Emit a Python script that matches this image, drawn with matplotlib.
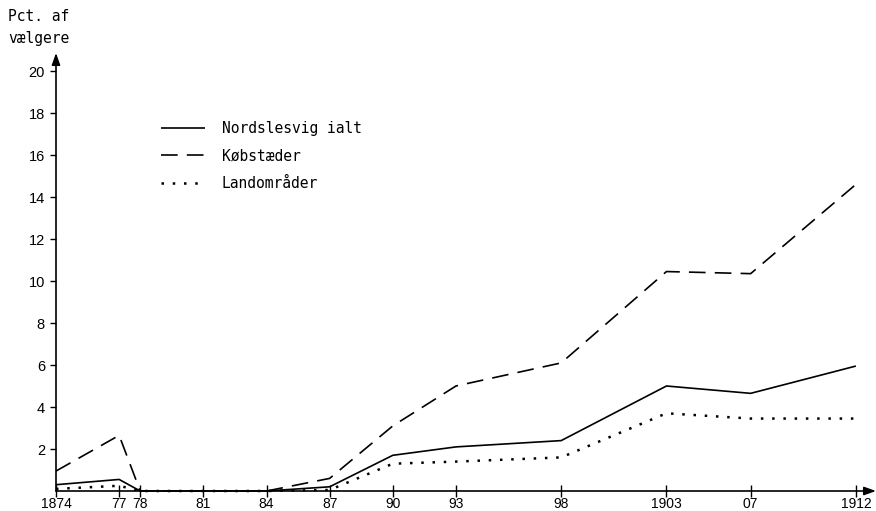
import matplotlib
matplotlib.use("Agg")
import matplotlib.pyplot as plt

years = [1874, 1877, 1878, 1881, 1884, 1887, 1890, 1893, 1898, 1903, 1907, 1912]
tick_labels = ["1874", "77", "78", "81", "84", "87", "90", "93", "98", "1903", "07", "1912"]
ialt = [0.3, 0.55, 0.0, 0.0, 0.0, 0.2, 1.7, 2.1, 2.4, 5.0, 4.65, 5.95]
kobstaeder = [0.95, 2.65, 0.0, 0.0, 0.0, 0.6, 3.1, 5.0, 6.1, 10.45, 10.35, 14.6]
landomraader = [0.1, 0.25, 0.0, 0.0, 0.0, 0.05, 1.3, 1.4, 1.6, 3.7, 3.45, 3.45]
series_names = ["Nordslesvig ialt", "Købstæder", "Landområder"]

W, H = 876, 511
fig = plt.figure(figsize=(W / 100, H / 100), dpi=100)
x0, x1 = 56, 876
ybot, ytop = 491, 53
ax = fig.add_axes([x0 / W, (H - ybot) / H, (x1 - x0) / W, (ybot - ytop) / H])

xmax = 1874 + (x1 - x0) / 21.05
ymax = (ybot - ytop) / 21.0
ax.set_xlim(1874, xmax)
ax.set_ylim(0, ymax)

mono = "DejaVu Sans Mono"
l1, = ax.plot(years, ialt, color="black", lw=1.2, solid_capstyle="butt", clip_on=False)
l2, = ax.plot(years, kobstaeder, color="black", lw=1.2, dashes=(10, 5.5), clip_on=False)
l3, = ax.plot(years, landomraader, color="black", lw=1.8, dashes=(1, 3.5), clip_on=False)

for s in ax.spines.values():
    s.set_visible(False)
arrow = dict(arrowstyle="-|>,head_length=0.7,head_width=0.25", color="black", lw=1.2,
             shrinkA=0, shrinkB=0)
ax.annotate("", xy=(1, 0), xytext=(0, 0), xycoords="axes fraction", arrowprops=arrow)
ax.annotate("", xy=(0, 1), xytext=(0, 0), xycoords="axes fraction", arrowprops=arrow)

ax.set_xticks(years)
ax.set_xticklabels(tick_labels)
ax.set_yticks([2, 4, 6, 8, 10, 12, 14, 16, 18, 20])
ax.tick_params(axis="x", direction="inout", length=8, width=1, pad=0.5, labelsize=10)
ax.tick_params(axis="y", direction="out", length=4, width=1, pad=4, labelsize=10.5)
for lab in ax.get_xticklabels() + ax.get_yticklabels():
    lab.set_family("Liberation Sans")

fig.text(8 / W, 1 - 9 / H, "Pct. af\nvælgere", family=mono, fontsize=10.5,
         ha="left", va="top", linespacing=1.6)

leg = ax.legend([l1, l2, l3], series_names, loc="upper left",
                bbox_to_anchor=(161 / W, 1 - 121 / H), bbox_transform=fig.transFigure,
                frameon=False, prop={"family": mono, "size": 10.5},
                handlelength=3.0, handletextpad=1.15, labelspacing=0.85, borderpad=0,
                borderaxespad=0)

fig.savefig("out.png", dpi=100)
